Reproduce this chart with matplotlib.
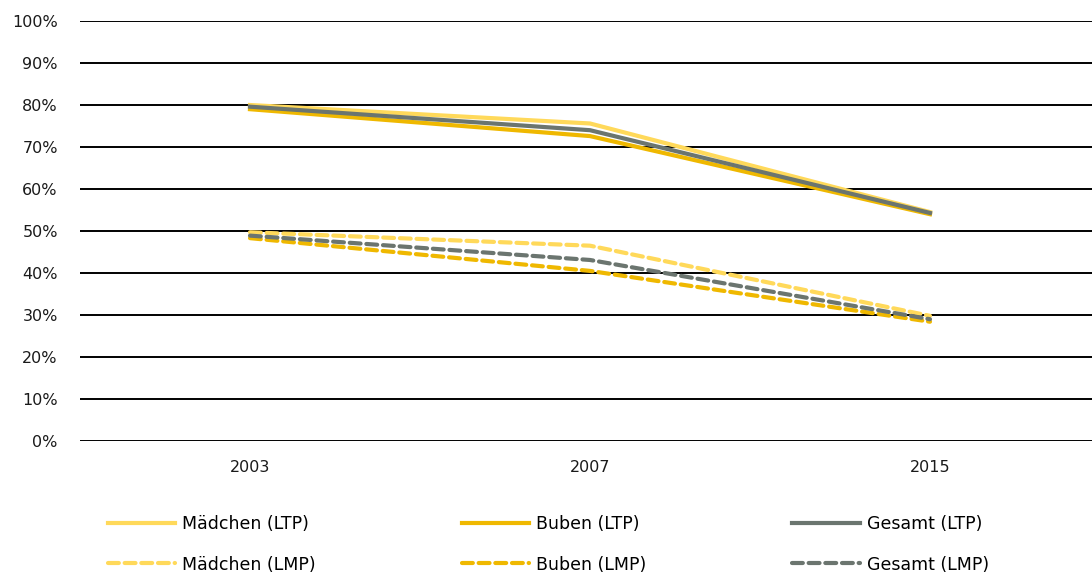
import matplotlib.pyplot as plt
from matplotlib.ticker import PercentFormatter

years = ["2003", "2007", "2015"]

maedchen_ltp = [80.0, 75.6, 54.5]
buben_ltp = [79.0, 72.6, 54.0]
gesamt_ltp = [79.6, 74.0, 54.3]

maedchen_lmp = [49.7, 46.5, 29.8]
buben_lmp = [48.3, 40.5, 28.4]
gesamt_lmp = [48.9, 43.1, 29.0]

c_light = "#FFD95A"
c_dark = "#EFB800"
c_grey = "#6B756F"

plt.rcParams['font.family'] = ['DejaVu Sans']

fig = plt.figure(figsize=(10.92, 5.76), dpi=100)
ax = fig.add_axes([80 / 1092, 1 - 441 / 576, 1020 / 1092, 420 / 576])

x = range(len(years))
lw = 3.0
dash = (2.6, 1.4)

ax.plot(x, maedchen_ltp, color=c_light, lw=lw, label="Mädchen (LTP)", zorder=3)
ax.plot(x, maedchen_lmp, color=c_light, lw=lw, ls=(0, dash), label="Mädchen (LMP)",
        dash_capstyle='round', zorder=3)
ax.plot(x, buben_ltp, color=c_dark, lw=lw, label="Buben (LTP)", zorder=3)
ax.plot(x, buben_lmp, color=c_dark, lw=lw, ls=(0, dash), label="Buben (LMP)",
        dash_capstyle='round', zorder=3)
ax.plot(x, gesamt_ltp, color=c_grey, lw=lw, label="Gesamt (LTP)", zorder=4)
ax.plot(x, gesamt_lmp, color=c_grey, lw=lw, ls=(0, dash), label="Gesamt (LMP)",
        dash_capstyle='round', zorder=4)

ax.set_xlim(-0.5, 2.5)
ax.set_ylim(0, 100)
ax.set_yticks(range(0, 101, 10))
ax.yaxis.set_major_formatter(PercentFormatter(decimals=0))
ax.set_xticks(list(x))
ax.set_xticklabels(years)
ax.tick_params(axis='both', length=0, labelsize=11.5, colors='#1a1a1a')
ax.tick_params(axis='y', pad=16)
ax.tick_params(axis='x', pad=14)
for s in ax.spines.values():
    s.set_visible(False)
ax.yaxis.grid(True, color='black', lw=1.4)
ax.set_axisbelow(True)

h, l = ax.get_legend_handles_labels()
fig.legend(h, l, ncol=3, loc='upper left', bbox_to_anchor=(92 / 1092, 1 - 499 / 576),
           frameon=False, fontsize=12.5, handlelength=3.9, handletextpad=0.4,
           columnspacing=8.4, labelspacing=1.32)

fig.savefig("out.png", dpi=100)
